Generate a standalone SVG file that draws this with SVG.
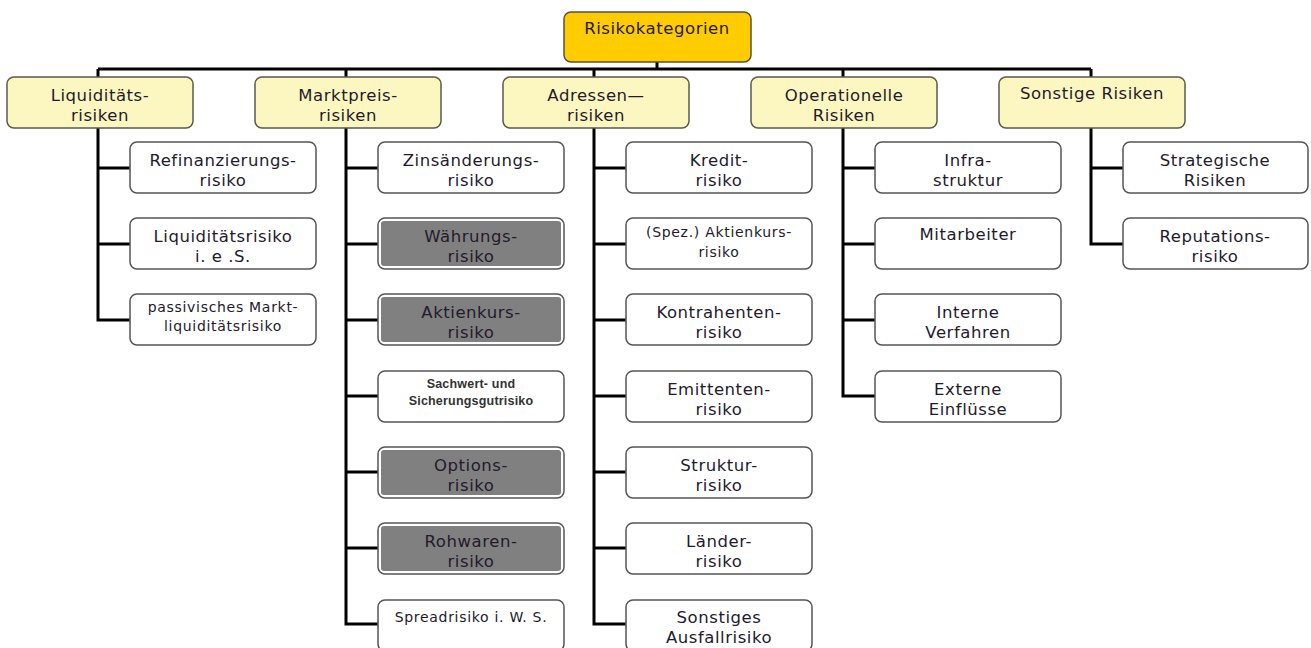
<svg xmlns="http://www.w3.org/2000/svg" width="1311" height="648" viewBox="0 0 1311 648">
<style>
text{font-family:"DejaVu Sans",Verdana,sans-serif;font-size:16.5px;letter-spacing:0.55px;fill:#241a2c;text-anchor:middle}
.sm{font-size:14px;letter-spacing:0.7px}
.xs{font-family:"Liberation Sans",Arial,sans-serif;font-size:12.5px;letter-spacing:0.2px;font-weight:bold;fill:#333}
.root{fill:#ffcc00;stroke:#5a5040;stroke-width:1.5}
.cat{fill:#fcf7c0;stroke:#5a5a50;stroke-width:1.5}
.box{fill:#fff;stroke:#555;stroke-width:1.5}
.grey{fill:#808080;stroke:none}
.ln{stroke:#000;stroke-width:3;fill:none}
</style>
<rect width="1311" height="648" fill="#fff"/>
<g id="connectors">
<path class="ln" d="M657,62V69M98,69H1091M98,69V77M346,69V77M594,69V77M843,69V77M1091,69V77"/>
<path class="ln" d="M98,128V320H130M98,168H130M98,244H130"/>
<path class="ln" d="M346,128V624H378M346,168H378M346,244H378M346,320H378M346,396H378M346,472H378M346,548H378"/>
<path class="ln" d="M594,128V624H626M594,168H626M594,244H626M594,320H626M594,396H626M594,472H626M594,548H626"/>
<path class="ln" d="M843,128V396H875M843,168H875M843,244H875M843,320H875"/>
<path class="ln" d="M1091,128V244H1123M1091,168H1123"/>
</g>
<g id="root"><rect class="root" x="564" y="12" width="187" height="50" rx="7"/><text x="657" y="34">Risikokategorien</text></g>
<g id="cat-liq"><rect class="cat" x="7" y="77" width="186" height="51" rx="7"/><text x="100" y="101">Liquiditäts-</text><text x="100" y="121">risiken</text></g>
<g id="cat-markt"><rect class="cat" x="255" y="77" width="186" height="51" rx="7"/><text x="348" y="101">Marktpreis-</text><text x="348" y="121">risiken</text></g>
<g id="cat-adr"><rect class="cat" x="503" y="77" width="186" height="51" rx="7"/><text x="596" y="101">Adressen—</text><text x="596" y="121">risiken</text></g>
<g id="cat-op"><rect class="cat" x="751" y="77" width="186" height="51" rx="7"/><text x="844" y="101">Operationelle</text><text x="844" y="121">Risiken</text></g>
<g id="cat-sonst"><rect class="cat" x="999" y="77" width="186" height="51" rx="7"/><text x="1092" y="99">Sonstige Risiken</text></g>

<g id="liq-1"><rect class="box" x="130" y="142" width="186" height="51" rx="7"/><text x="223" y="166">Refinanzierungs-</text><text x="223" y="186">risiko</text></g>
<g id="liq-2"><rect class="box" x="130" y="218" width="186" height="51" rx="7"/><text x="223" y="242">Liquiditätsrisiko</text><text x="223" y="262">i. e .S.</text></g>
<g id="liq-3"><rect class="box" x="130" y="294" width="186" height="51" rx="7"/><text class="sm" x="223" y="312">passivisches Markt-</text><text class="sm" x="223" y="331">liquiditätsrisiko</text></g>

<g id="mp-1"><rect class="box" x="378" y="142" width="186" height="51" rx="7"/><text x="471" y="166">Zinsänderungs-</text><text x="471" y="186">risiko</text></g>
<g id="mp-2"><rect class="box" x="378" y="218" width="186" height="51" rx="7"/><rect class="grey" x="381" y="221" width="180" height="45" rx="3"/><text x="471" y="242">Währungs-</text><text x="471" y="262">risiko</text></g>
<g id="mp-3"><rect class="box" x="378" y="294" width="186" height="51" rx="7"/><rect class="grey" x="381" y="297" width="180" height="45" rx="3"/><text x="471" y="318">Aktienkurs-</text><text x="471" y="338">risiko</text></g>
<g id="mp-4"><rect class="box" x="378" y="371" width="186" height="51" rx="7"/><text class="xs" x="471" y="388">Sachwert-  und</text><text class="xs" x="471" y="405">Sicherungsgutrisiko</text></g>
<g id="mp-5"><rect class="box" x="378" y="447" width="186" height="51" rx="7"/><rect class="grey" x="381" y="450" width="180" height="45" rx="3"/><text x="471" y="471">Options-</text><text x="471" y="491">risiko</text></g>
<g id="mp-6"><rect class="box" x="378" y="523" width="186" height="51" rx="7"/><rect class="grey" x="381" y="526" width="180" height="45" rx="3"/><text x="471" y="547">Rohwaren-</text><text x="471" y="567">risiko</text></g>
<g id="mp-7"><rect class="box" x="378" y="600" width="186" height="51" rx="7"/><text class="sm" x="471" y="622">Spreadrisiko i. W. S.</text></g>

<g id="adr-1"><rect class="box" x="626" y="142" width="186" height="51" rx="7"/><text x="719" y="166">Kredit-</text><text x="719" y="186">risiko</text></g>
<g id="adr-2"><rect class="box" x="626" y="218" width="186" height="51" rx="7"/><text class="sm" x="719" y="237">(Spez.) Aktienkurs-</text><text class="sm" x="719" y="257">risiko</text></g>
<g id="adr-3"><rect class="box" x="626" y="294" width="186" height="51" rx="7"/><text x="719" y="318">Kontrahenten-</text><text x="719" y="338">risiko</text></g>
<g id="adr-4"><rect class="box" x="626" y="371" width="186" height="51" rx="7"/><text x="719" y="395">Emittenten-</text><text x="719" y="415">risiko</text></g>
<g id="adr-5"><rect class="box" x="626" y="447" width="186" height="51" rx="7"/><text x="719" y="471">Struktur-</text><text x="719" y="491">risiko</text></g>
<g id="adr-6"><rect class="box" x="626" y="523" width="186" height="51" rx="7"/><text x="719" y="547">Länder-</text><text x="719" y="567">risiko</text></g>
<g id="adr-7"><rect class="box" x="626" y="600" width="186" height="51" rx="7"/><text x="719" y="623">Sonstiges</text><text x="719" y="643">Ausfallrisiko</text></g>

<g id="op-1"><rect class="box" x="875" y="142" width="186" height="51" rx="7"/><text x="968" y="166">Infra-</text><text x="968" y="186">struktur</text></g>
<g id="op-2"><rect class="box" x="875" y="218" width="186" height="51" rx="7"/><text x="968" y="240">Mitarbeiter</text></g>
<g id="op-3"><rect class="box" x="875" y="294" width="186" height="51" rx="7"/><text x="968" y="318">Interne</text><text x="968" y="338">Verfahren</text></g>
<g id="op-4"><rect class="box" x="875" y="371" width="186" height="51" rx="7"/><text x="968" y="395">Externe</text><text x="968" y="415">Einflüsse</text></g>

<g id="so-1"><rect class="box" x="1123" y="142" width="185" height="51" rx="7"/><text x="1215" y="166">Strategische</text><text x="1215" y="186">Risiken</text></g>
<g id="so-2"><rect class="box" x="1123" y="218" width="185" height="51" rx="7"/><text x="1215" y="242">Reputations-</text><text x="1215" y="262">risiko</text></g>
</svg>
